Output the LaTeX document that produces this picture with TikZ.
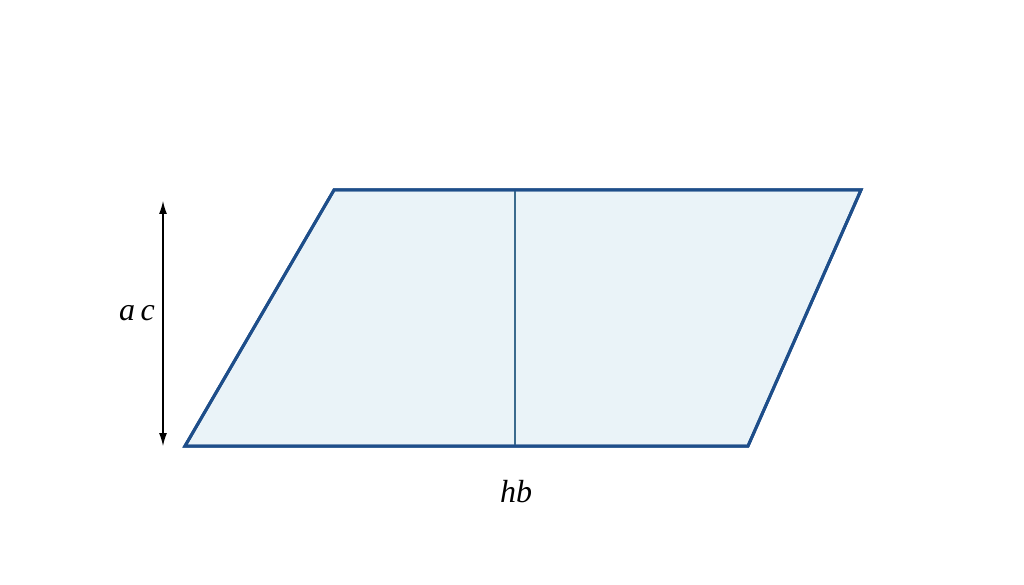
\documentclass[tikz,border=0pt]{standalone}
\usepackage{fontspec}
\setmainfont{Liberation Serif}
\usetikzlibrary{arrows.meta}
\definecolor{edge}{HTML}{1E4E8A}
\definecolor{fillc}{HTML}{EAF3F8}
\definecolor{midc}{HTML}{3B6B8E}
\tikzset{
  para/.style={draw=edge, fill=fillc, line width=3pt, line join=miter},
  midline/.style={draw=midc, line width=1.3pt},
  dimarrow/.style={draw=black, line width=1.2pt, {Latex[length=13pt,width=8pt]}-{Latex[length=13pt,width=8pt]}},
  lbl/.style={font=\fontsize{32}{36}\selectfont\itshape, inner sep=0pt}
}
\begin{document}
\begin{tikzpicture}[x=1pt,y=-1pt]
\useasboundingbox (0,0) rectangle (1024,585);
\coordinate (A) at (185,446);
\coordinate (B) at (748,446);
\coordinate (C) at (861,190);
\coordinate (D) at (334,190);
\coordinate (Mt) at (515,190);
\coordinate (Mb) at (515,446);
\coordinate (Pt) at (163,201);
\coordinate (Pb) at (163,446);
\path[para] (A) -- (B) -- (C) -- (D) -- cycle;
\draw[midline] (Mt) -- (Mb);
\draw[para, fill=none] (A) -- (B) -- (C) -- (D) -- cycle;
\draw[dimarrow] (Pt) -- (Pb);
\node[lbl] (ac) at (137,313) {a\,c};
\node[lbl] (hb) at (516,492) {hb};
\end{tikzpicture}
\end{document}
